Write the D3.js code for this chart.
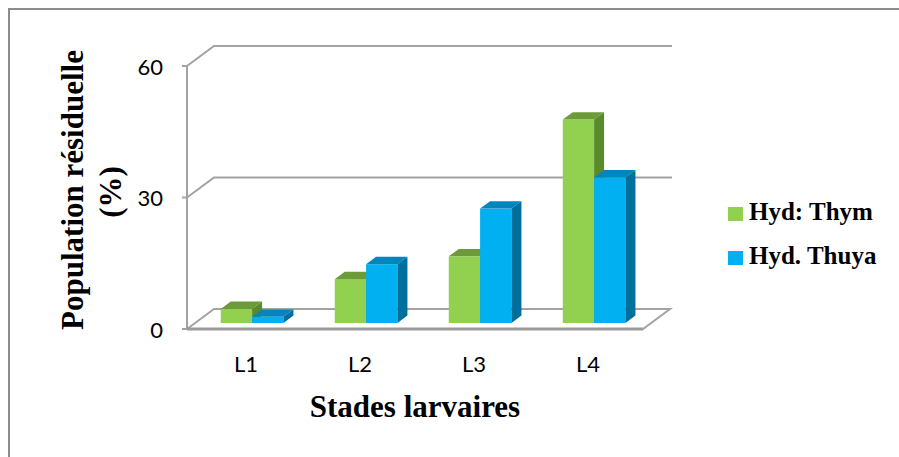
<!DOCTYPE html>
<html>
<head>
<meta charset="utf-8">
<script src="https://cdn.jsdelivr.net/npm/d3@7"></script>
<style>
  body { margin: 0; background: #fff; }
  svg { display: block; }
</style>
</head>
<body>
<div id="grafico"></div>
<script>
// Données
const categories = ['L1', 'L2', 'L3', 'L4'];
const seriesNames = ['Hyd: Thym', 'Hyd. Thuya'];
const thym = [3.2, 10.0, 15.2, 46.4];
const thuya = [1.4, 13.4, 26.1, 33.2];
const yTicks = [0, 30, 60];

function dessiner() {
  const largura = 899;
  const altura = 457;

  // profondeur 3D (plan avant -> mur du fond)
  const DX = 27, DY = -20;
  const t0 = 0.3, t1 = 0.67; // position des barres dans la profondeur

  const svg = d3.select('#grafico').append('svg')
    .attr('width', largura)
    .attr('height', altura);

  // cadre
  svg.append('path')
    .attr('d', `M9,${altura + 2} L9,9 L${largura + 2},9`)
    .attr('fill', 'none')
    .attr('stroke', '#8c8c8c')
    .attr('stroke-width', 2);

  const y = d3.scaleLinear().domain([0, 60]).range([329, 66]);
  const x = d3.scaleBand().domain(categories).range([187, 643])
    .paddingInner(0.45).paddingOuter(0.225);
  const xs = d3.scaleBand().domain(seriesNames).range([0, x.bandwidth()]);

  const grid = '#a3a3a3';
  const x0 = x.range()[0], x1 = x.range()[1];

  // murs : lignes de grille (côté gauche + fond)
  yTicks.forEach((v) => {
    const yy = y(v);
    svg.append('path')
      .attr('d', v === 0
        ? `M${x0},${yy} L${x0 + DX},${yy + DY} L${x1 + DX},${yy + DY} L${x1},${yy} Z`
        : `M${x0},${yy} L${x0 + DX},${yy + DY} L${x1 + DX + 2},${yy + DY}`)
      .attr('fill', 'none')
      .attr('stroke', grid)
      .attr('stroke-width', 2);
    // petite graduation
    svg.append('line')
      .attr('x1', x0 - 5).attr('x2', x0)
      .attr('y1', yy).attr('y2', yy)
      .attr('stroke', grid).attr('stroke-width', 2);
  });
  // axe vertical
  svg.append('line')
    .attr('x1', x0).attr('x2', x0)
    .attr('y1', y(60)).attr('y2', y(0))
    .attr('stroke', grid).attr('stroke-width', 2);
  // bord avant du sol
  svg.append('line')
    .attr('x1', x0).attr('x2', x1)
    .attr('y1', y(0)).attr('y2', y(0))
    .attr('stroke', '#9a9a9a').attr('stroke-width', 3);

  // étiquettes de l'axe Y
  svg.selectAll('.ytick').data(yTicks).enter().append('text')
    .attr('class', 'ytick')
    .attr('x', 163)
    .attr('y', (d) => y(d))
    .attr('dy', '0.4em')
    .attr('text-anchor', 'end')
    .attr('font-family', 'Lato, "Open Sans", sans-serif')
    .attr('font-size', 22)
    .attr('fill', '#000')
    .text((d) => d);

  // étiquettes des catégories
  svg.selectAll('.xtick').data(categories).enter().append('text')
    .attr('class', 'xtick')
    .attr('x', (d) => x(d) + x.bandwidth() / 2 + 2)
    .attr('y', 372)
    .attr('text-anchor', 'middle')
    .attr('font-family', 'Lato, "Open Sans", sans-serif')
    .attr('font-size', 22)
    .attr('fill', '#000')
    .text((d) => d);

  // barres 3D
  const couleurs = [
    { front: '#92d050', top: '#6d9b3a', side: '#5b8a2d' },
    { front: '#00b0f0', top: '#0086bf', side: '#006f9c' }
  ];
  const valeurs = [thym, thuya];
  const ox = DX * t0, oy = DY * t0;
  const ddx = DX * (t1 - t0), ddy = DY * (t1 - t0);

  categories.forEach((c, i) => {
    seriesNames.forEach((s, j) => {
      const v = valeurs[j][i];
      const bx0 = x(c) + xs(s) + ox;
      const bx1 = bx0 + xs.bandwidth();
      const yt = y(v) + oy;
      const yb = y(0) + oy;
      const g = svg.append('g');
      g.append('rect')
        .attr('x', bx0).attr('y', yt)
        .attr('width', bx1 - bx0).attr('height', yb - yt)
        .attr('fill', couleurs[j].front);
      g.append('path')
        .attr('d', `M${bx0},${yt} L${bx1},${yt} L${bx1 + ddx},${yt + ddy} L${bx0 + ddx},${yt + ddy} Z`)
        .attr('fill', couleurs[j].top);
      g.append('path')
        .attr('d', `M${bx1},${yt} L${bx1 + ddx},${yt + ddy} L${bx1 + ddx},${yb + ddy} L${bx1},${yb} Z`)
        .attr('fill', couleurs[j].side);
    });
  });

  // titre de l'axe Y
  const serif = '"Liberation Serif", "Times New Roman", serif';
  svg.append('text')
    .attr('transform', 'translate(83,190) rotate(-90)')
    .attr('text-anchor', 'middle')
    .attr('font-family', serif)
    .attr('font-weight', 'bold')
    .attr('font-size', 31)
    .text('Population résiduelle');
  svg.append('text')
    .attr('transform', 'translate(121,192) rotate(-90)')
    .attr('text-anchor', 'middle')
    .attr('font-family', serif)
    .attr('font-weight', 'bold')
    .attr('font-size', 31)
    .text('(%)');

  // titre de l'axe X
  svg.append('text')
    .attr('x', 415)
    .attr('y', 417)
    .attr('text-anchor', 'middle')
    .attr('font-family', serif)
    .attr('font-weight', 'bold')
    .attr('font-size', 31)
    .text('Stades larvaires');

  // légende
  const leg = svg.selectAll('.leg').data(seriesNames).enter().append('g')
    .attr('class', 'leg')
    .attr('transform', (d, i) => `translate(728,${207 + i * 44})`);
  leg.append('rect')
    .attr('width', 15).attr('height', 14)
    .attr('fill', (d, i) => couleurs[i].front);
  leg.append('text')
    .attr('x', 21).attr('y', 13)
    .attr('font-family', serif)
    .attr('font-weight', 'bold')
    .attr('font-size', 25)
    .text((d) => d);
}

dessiner();
</script>
</body>
</html>
